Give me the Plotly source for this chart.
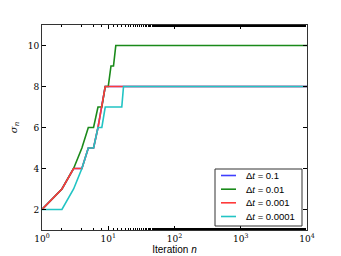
import plotly.graph_objects as go

# Breakpoints (iteration n) and sigma_n values for each time step
n_01 = [1, 2, 3, 4, 5, 6, 7, 8, 9, 10000]
s_01 = [2, 3, 4, 4, 5, 5, 6, 7, 8, 8]

n_001 = [1, 2, 3, 4, 5, 6, 7, 8, 9, 10, 11, 12, 13, 10000]
s_001 = [2, 3, 4, 5, 6, 6, 7, 7, 8, 8, 9, 9, 10, 10]

n_0001 = [1, 2, 3, 4, 5, 6, 7, 8, 9, 10000]
s_0001 = [2, 3, 4, 4, 5, 5, 6, 7, 8, 8]

n_00001 = [1, 2, 3, 4, 5, 6, 7, 8, 9, 16, 17, 10000]
s_00001 = [2, 2, 3, 4, 5, 5, 6, 6, 7, 7, 8, 8]

labels = ["Δ<i>t</i> = 0.1", "Δ<i>t</i> = 0.01", "Δ<i>t</i> = 0.001", "Δ<i>t</i> = 0.0001"]
colors = ["#3f3fff", "#1a8a1a", "#ff3a3a", "#22c4c4"]

x_tickvals = [1, 10, 100, 1000, 10000]
x_ticktext = ["10<sup>0</sup>", "10<sup>1</sup>", "10<sup>2</sup>", "10<sup>3</sup>", "10<sup>4</sup>"]
y_tickvals = [2, 4, 6, 8, 10]

series = [(n_01, s_01), (n_001, s_001), (n_0001, s_0001), (n_00001, s_00001)]

fig = go.Figure()
for (xs, ys), lab, col in zip(series, labels, colors):
    fig.add_trace(go.Scatter(x=xs, y=ys, mode="lines", name=lab, showlegend=False,
                             line=dict(color=col, width=1.6)))

# Custom compact legend (box, swatches, labels) in paper coordinates
PW, PH = 265.0, 205.0
def px(x):
    return (x - 42) / PW
def py(y):
    return (230 - y) / PH

fig.add_shape(type="rect", xref="paper", yref="paper",
              x0=px(215), x1=px(302), y0=py(226), y1=py(169),
              line=dict(color="#333333", width=1), fillcolor="white", layer="above")
row_y = [175.5, 189.2, 202.8, 216.5]
for ry, lab, col in zip(row_y, labels, colors):
    fig.add_shape(type="line", xref="paper", yref="paper",
                  x0=px(221), x1=px(236), y0=py(ry), y1=py(ry),
                  line=dict(color=col, width=1.6), layer="above")
    fig.add_annotation(xref="paper", yref="paper", x=px(244), y=py(ry),
                       text=lab, showarrow=False, xanchor="left", yanchor="middle",
                       font=dict(family="Liberation Sans", size=9.5, color="black"))

serif = "DejaVu Serif"
fig.update_layout(
    width=333, height=248,
    margin=dict(l=34, r=34, t=17, b=26),
    paper_bgcolor="white", plot_bgcolor="white",
    showlegend=False,
    xaxis=dict(type="log", range=[0, 4], tickvals=x_tickvals, ticktext=x_ticktext,
               automargin=False,
               ticks="inside", ticklen=4, tickcolor="black", mirror="allticks",
               showline=True, linecolor="#333333", linewidth=1, showgrid=False,
               minor=dict(ticks="inside", ticklen=2, tickcolor="black", showgrid=False),
               tickfont=dict(family=serif, size=9, color="black"),
               title=dict(text="Iteration <i>n</i>", standoff=1,
                          font=dict(family="Liberation Sans", size=10, color="black"))),
    yaxis=dict(range=[1, 11], tickvals=y_tickvals, automargin=False,
               ticks="inside", ticklen=4, tickcolor="black", mirror="allticks",
               showline=True, linecolor="#333333", linewidth=1, showgrid=False, zeroline=False,
               tickfont=dict(family=serif, size=9, color="black"),
               title=dict(text="<i>σ<sub>n</sub></i>", standoff=8,
                          font=dict(family=serif, size=10, color="black"))),
)

fig.write_html("out.html")
